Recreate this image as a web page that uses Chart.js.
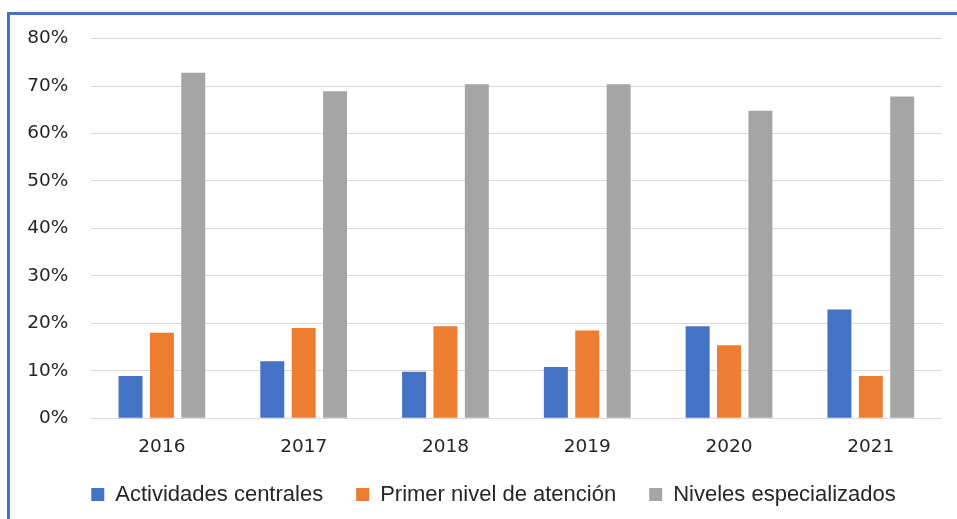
<!DOCTYPE html>
<html>
<head>
<meta charset="utf-8">
<script src="https://cdn.jsdelivr.net/npm/chart.js@4.4.1/dist/chart.umd.min.js"></script>
<style>
  html, body { margin: 0; padding: 0; background: #ffffff; }
  #wrap { position: relative; width: 957px; height: 519px; overflow: hidden; }
  #frame { position: absolute; left: 7px; top: 12px; right: -10px; bottom: -10px;
           border-left: 3px solid #4472C4; border-top: 3px solid #4472C4; box-sizing: border-box; }
  canvas { position: absolute; left: 0; top: 0; }
</style>
</head>
<body>
<div id="wrap">
  <div id="frame"></div>
  <canvas id="c" width="957" height="519"></canvas>
</div>
<script>
const categories = ['2016', '2017', '2018', '2019', '2020', '2021'];
const seriesNames = ['Actividades centrales', 'Primer nivel de atención', 'Niveles especializados'];
const actividadesCentrales = [8.9, 12.0, 9.8, 10.8, 19.4, 22.9];
const primerNivel = [18.0, 19.0, 19.4, 18.5, 15.4, 8.9];
const nivelesEspecializados = [72.8, 68.9, 70.4, 70.4, 64.8, 67.8];
const yTicks = [0, 10, 20, 30, 40, 50, 60, 70, 80];

const colors = ['#4472C4', '#ED7D31', '#A5A5A5'];
const seriesData = [actividadesCentrales, primerNivel, nivelesEspecializados];

const LEGEND_PAD = 33;
const LEGEND_FONT = 22;

// Position the legend box after layout (centre of the legend row)
const legendPlacer = {
  id: 'legendPlacer',
  afterLayout(chart) {
    const lg = chart.legend;
    if (!lg) return;
    const targetCenterY = 494.5;
    const targetCenterX = 493.5;
    const itemH = Math.max(13, LEGEND_FONT);
    const dy = (targetCenterY - itemH / 2 - LEGEND_PAD) - lg.top;
    const dx = targetCenterX - (lg.left + lg.right) / 2;
    lg.top += dy; lg.bottom += dy;
    lg.left += dx; lg.right += dx;
  }
};

new Chart(document.getElementById('c'), {
  type: 'bar',
  data: {
    labels: categories,
    datasets: seriesNames.map((n, i) => ({
      label: n,
      data: seriesData[i],
      backgroundColor: colors[i],
      borderWidth: 0,
      categoryPercentage: 0.664,
      barPercentage: 0.764
    }))
  },
  plugins: [legendPlacer],
  options: {
    responsive: false,
    devicePixelRatio: 1,
    animation: false,
    layout: { padding: { left: 20, right: 15.3, top: 38.6, bottom: 0 } },
    plugins: {
      tooltip: { enabled: false },
      legend: {
        position: 'bottom',
        maxHeight: 55.7,
        labels: {
          boxWidth: 13, boxHeight: 13, padding: LEGEND_PAD,
          color: '#262626',
          font: { family: 'Liberation Sans', size: LEGEND_FONT }
        }
      }
    },
    scales: {
      x: {
        grid: { display: false, drawTicks: false },
        border: { display: false },
        ticks: { color: '#262626', padding: 18, font: { family: 'DejaVu Sans', size: 18.5 } },
        afterFit: s => { s.height = 45; }
      },
      y: {
        min: 0, max: 80,
        afterBuildTicks: s => { s.ticks = yTicks.map(v => ({ value: v })); },
        grid: { color: '#d9d9d9', lineWidth: 1, drawTicks: false },
        border: { display: false },
        ticks: { color: '#262626', padding: 22.7, font: { family: 'DejaVu Sans', size: 18.5 },
                 callback: v => v + '%' },
        afterFit: s => { s.width = 71; }
      }
    }
  }
});
</script>
</body>
</html>
